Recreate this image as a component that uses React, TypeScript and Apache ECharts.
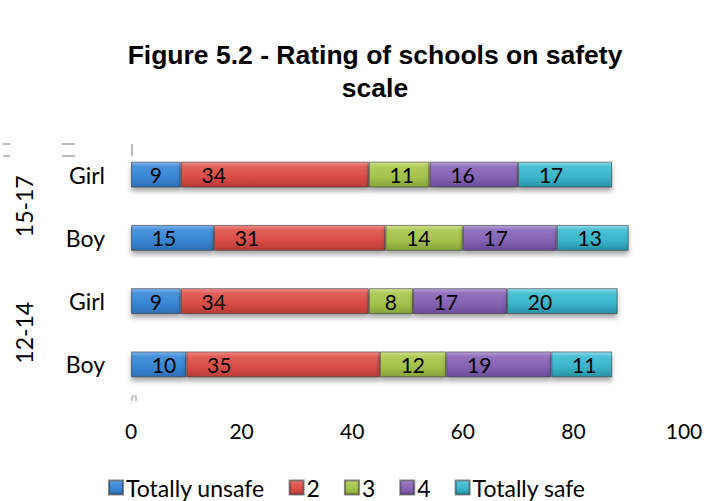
import React, { useEffect, useRef } from "react";
import * as echarts from "echarts";

const categories = ["Boy", "Girl", "Boy", "Girl"];
const groups = ["12-14", "15-17"];
const seriesNames = ["Totally unsafe", "2", "3", "4", "Totally safe"];
const totallyUnsafe = [10, 9, 15, 9];
const rating2 = [35, 34, 31, 34];
const rating3 = [12, 8, 14, 11];
const rating4 = [19, 17, 17, 16];
const totallySafe = [11, 20, 13, 17];
const xTicks = [0, 20, 40, 60, 80, 100];

const palettes = [
  ["#7db4ea", "#4a93dc", "#3a86d3", "#2c6fb6"],
  ["#f08e89", "#e2605a", "#d94d47", "#b93b36"],
  ["#cfe08e", "#b1cb5c", "#a4c14c", "#86a33a"],
  ["#b9a0d6", "#9373bf", "#8563b4", "#6b4c98"],
  ["#8fdcea", "#4cc2d6", "#3bb4ca", "#2893a8"],
];

export default function App() {
  const ref = useRef<HTMLDivElement>(null);
  useEffect(() => {
    if (!ref.current) return;
    const chart = echarts.init(ref.current, undefined, { renderer: "svg" });
    const data = [totallyUnsafe, rating2, rating3, rating4, totallySafe];
    const font = "Lato, 'Open Sans', sans-serif";
    const series = data.map((vals, i) => ({
      name: seriesNames[i],
      type: "bar",
      stack: "total",
      barWidth: "41%",
      data: vals.map((v) =>
        v < 10
          ? { value: v, label: { position: "inside", align: "center", distance: 5 } }
          : v
      ),
      itemStyle: {
        color: new echarts.graphic.LinearGradient(0, 0, 0, 1, [
          { offset: 0, color: palettes[i][0] },
          { offset: 0.18, color: palettes[i][1] },
          { offset: 0.6, color: palettes[i][2] },
          { offset: 1, color: palettes[i][3] },
        ]),
        borderColor: "rgba(40,40,40,0.55)",
        borderWidth: 1,
        shadowColor: "rgba(0,0,0,0.35)",
        shadowBlur: 5,
        shadowOffsetY: 4,
      },
      label: {
        show: true,
        position: "insideLeft",
        align: "center",
        verticalAlign: "middle",
        distance: 33,
        color: "#000",
        fontSize: 21,
        fontFamily: font,
      },
    }));
    const tickStyle = { stroke: "#a6a6a6", lineWidth: 1.5 };
    chart.setOption({
      animation: false,
      title: {
        text: "Figure 5.2 - Rating of schools on safety\nscale",
        left: 370,
        textAlign: "center",
        top: 33,
        textStyle: {
          fontFamily: "'Liberation Sans', Arial, sans-serif",
          fontWeight: "bold",
          fontSize: 26.5,
          lineHeight: 33,
          color: "#000",
        },
      },
      legend: {
        bottom: -3,
        left: 103,
        itemWidth: 14,
        itemHeight: 14,
        itemGap: 24,
        icon: "rect",
        textStyle: { fontSize: 23, fontFamily: font, color: "#000", padding: [0, 0, 0, -2] },
        data: seriesNames,
      },
      graphic: [
        { type: "line", shape: { x1: 3, y1: 144, x2: 10, y2: 144 }, style: tickStyle },
        { type: "line", shape: { x1: 3, y1: 156, x2: 10, y2: 156 }, style: tickStyle },
        { type: "line", shape: { x1: 62, y1: 144, x2: 75, y2: 144 }, style: tickStyle },
        { type: "line", shape: { x1: 62, y1: 156, x2: 75, y2: 156 }, style: tickStyle },
        { type: "line", shape: { x1: 132, y1: 144, x2: 132, y2: 156 }, style: tickStyle },
        { type: "polyline", shape: { points: [[132, 401], [132, 396], [136, 396], [136, 401]] }, style: { stroke: "#a6a6a6", lineWidth: 1.2, fill: "none" } },
      ],
      grid: { left: 131, right: 23, top: 143, bottom: 105, containLabel: false },
      xAxis: {
        type: "value",
        min: xTicks[0],
        max: xTicks[xTicks.length - 1],
        interval: 20,
        axisLine: { show: false },
        axisTick: { show: false },
        splitLine: { show: false },
        axisLabel: { fontSize: 21, fontFamily: font, color: "#000", margin: 24 },
      },
      yAxis: [
        {
          type: "category",
          data: categories,
          axisLine: { show: false },
          axisTick: { show: false },
          axisLabel: { fontSize: 23, fontFamily: font, color: "#000", margin: 26 },
        },
        {
          type: "category",
          data: groups,
          position: "left",
          axisLine: { show: false },
          axisTick: { show: false },
          axisLabel: {
            fontSize: 23,
            fontFamily: font,
            color: "#000",
            rotate: 90,
            margin: 96,
          },
        },
      ],
      series,
    });
    return () => chart.dispose();
  }, []);
  return (
    <div
      ref={ref}
      style={{ position: "absolute", left: 0, top: 0, width: 707, height: 501 }}
    />
  );
}
